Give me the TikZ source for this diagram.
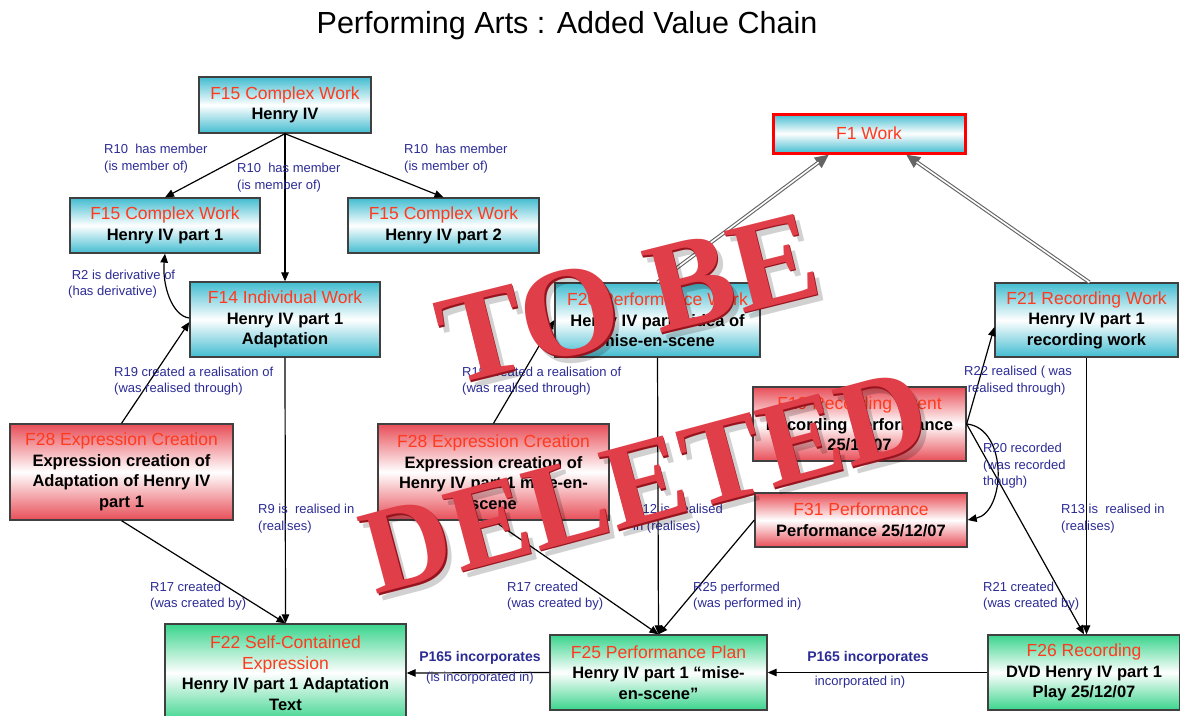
\documentclass[tikz,border=0pt]{standalone}
\usepackage{fontspec}
\setmainfont{Liberation Sans}
\newfontfamily\stampfont{Liberation Serif}
\usetikzlibrary{arrows.meta}
\definecolor{cyanbox}{RGB}{66,188,208}
\definecolor{redbox}{RGB}{232,78,88}
\definecolor{greenbox}{RGB}{58,212,140}
\definecolor{ttlred}{RGB}{255,58,30}
\definecolor{lblblue}{RGB}{44,44,150}
\definecolor{edgegray}{RGB}{64,64,64}
\definecolor{dblgray}{RGB}{100,100,100}
\definecolor{stampred}{RGB}{224,62,72}
\definecolor{stampdark}{RGB}{150,20,30}
\newcommand\hd[1]{{\mdseries\fontsize{17.5}{20.5}\selectfont\color{ttlred}#1}}
\begin{document}
\begin{tikzpicture}[x=1pt,y=-1pt,
 box/.style={draw=edgegray, line width=1.3pt, inner sep=0pt, align=center, font=\fontsize{16.5}{20.5}\selectfont\bfseries},
 cybox/.style={box, top color=cyanbox, bottom color=cyanbox, middle color=white},
 rdbox/.style={box, top color=redbox, bottom color=redbox, middle color=white},
 grbox/.style={box, top color=greenbox, bottom color=greenbox, middle color=white},
 arr/.style={draw=black, line width=1.2pt, -{Triangle[length=9pt,width=7.5pt]}},
 dblout/.style={draw=dblgray, line width=3.8pt, -{Triangle[length=14pt,width=12pt]}},
 dblin/.style={draw=white, line width=1.6pt, shorten >=13pt},
 lbl/.style={text=lblblue, font=\fontsize{13}{16.5}\selectfont, align=left, inner sep=0pt, anchor=west},
 plbl/.style={text=lblblue, inner sep=0pt},
 stampf/.style={font=\stampfont\bfseries\fontsize{128}{128}\selectfont, inner sep=0pt},
 stampg/.style={font=\stampfont\bfseries\fontsize{121}{121}\selectfont, inner sep=0pt},
]
\useasboundingbox[fill=white] (0,0) rectangle (1180,715);

\node[font=\fontsize{30.5}{34}\selectfont, anchor=base] (title) at (567,33) {Performing Arts : Added Value Chain};

% boxes
\node[cybox, minimum width=172pt, minimum height=56pt] (h4) at (285,105) {\hd{F15 Complex Work}\\Henry IV};
\node[cybox, minimum width=190pt, minimum height=55pt] (p1) at (165,225.5) {\hd{F15 Complex Work}\\Henry IV part 1};
\node[cybox, minimum width=191pt, minimum height=55pt] (p2) at (443.5,225.5) {\hd{F15 Complex Work}\\Henry IV part 2};
\node[cybox, minimum width=190pt, minimum height=75pt] (f14) at (285,319.5) {\hd{F14 Individual Work}\\Henry IV part 1\\Adaptation};
\node[cybox, draw=red, line width=3pt, minimum width=192pt, minimum height=39pt] (f1) at (869,133.5) {\hd{F1 Work}};
\node[cybox, minimum width=205pt, minimum height=74pt] (f20) at (657.5,320) {\hd{F20 Performance Work}\\Henry IV part 1 idea of\\mise-en-scene};
\node[cybox, minimum width=183pt, minimum height=74pt] (f21) at (1086.5,320) {\hd{F21 Recording Work}\\Henry IV part 1\\recording work};
\node[rdbox, minimum width=223pt, minimum height=96pt] (f28a) at (121.5,472) {\hd{F28 Expression Creation}\\Expression creation of\\Adaptation of Henry IV\\part 1};
\node[rdbox, minimum width=231pt, minimum height=96pt] (f28b) at (493.5,472) {\hd{F28 Expression Creation}\\Expression creation of\\Henry IV part 1 mise-en-\\scene};
\node[rdbox, minimum width=213pt, minimum height=74pt] (f19) at (859.5,424) {\hd{F19 Recording Event}\\Recording Performance\\25/12/07};
\node[rdbox, minimum width=212pt, minimum height=54pt] (f31) at (861,520) {\hd{F31 Performance}\\Performance 25/12/07};
\node[grbox, minimum width=241pt, minimum height=98pt] (f22) at (285.5,673) {\hd{F22 Self-Contained}\\\hd{Expression}\\Henry IV part 1 Adaptation\\Text};
\node[grbox, minimum width=217pt, minimum height=75pt] (f25) at (658.5,672.5) {\hd{F25 Performance Plan}\\Henry IV part 1 “mise-\\en-scene”};
\node[grbox, minimum width=192pt, minimum height=75pt] (f26) at (1084,672.5) {\hd{F26 Recording}\\DVD Henry IV part 1\\Play 25/12/07};

% connectors
\draw[arr] (h4.south) -- (p1.north);
\draw[arr] (h4.south) -- (p2.north);
\draw[arr] (h4.south) -- (f14.north);
\draw[arr] ([yshift=1.5pt]f14.west) .. controls (172,316) and (162,285) .. (p1.south);
\draw[arr] (f28a.north) -- ([yshift=-2.5pt]f14.west);
\draw[arr] (f28a.south) -- (f22.north);
\draw[arr] (f14.south) -- (f22.north);
\draw[arr] (f28b.north) -- (f20.west);
\draw[arr] (f28b.south) -- (f25.north);
\draw[arr] (f20.south) -- (f25.north);
\draw[arr] (f31.west) -- (f25.north);
\draw[arr] (f25.west) -- (f22.east);
\draw[arr] (f26.west) -- (f25.east);
\draw[arr] (f19.east) -- ([yshift=-7pt]f21.west);
\draw[arr] (f19.east) -- (f26.north);
\draw[arr] (f21.south) -- (f21.south |- f26.north);
\draw[arr] (f19.east) .. controls (1008,428) and (1006,512) .. (f31.east);
\draw[dblout] (f20.north) -- ([xshift=-40pt]f1.south);
\draw[dblin] (f20.north) -- ([xshift=-40pt]f1.south);
\draw[dblout] ([xshift=3pt]f21.north) -- ([xshift=37pt]f1.south);
\draw[dblin] ([xshift=3pt]f21.north) -- ([xshift=37pt]f1.south);

% labels
\node[lbl] (l1) at (104,158.5) {R10\ \ has member\\(is member of)};
\node[lbl] (l2) at (237,177.5) {R10\ \ has member\\(is member of)};
\node[lbl] (l3) at (404,158.5) {R10\ \ has member\\(is member of)};
\node[lbl] (l4) at (68,284) {\ R2 is derivative of\\(has derivative)};
\node[lbl] (l5) at (114,381) {R19 created a realisation of\\(was realised through)};
\node[lbl] (l6) at (462,381) {R19 created a realisation of\\(was realised through)};
\node[lbl] (l7) at (258,518.5) {R9 is\ \ realised in\\(realises)};
\node[lbl] (l8) at (633,518.5) {R12 is\ \ realised\\in (realises)};
\node[lbl] (l9) at (150,596) {R17 created\\(was created by)};
\node[lbl] (l10) at (507,596) {R17 created\\(was created by)};
\node[lbl] (l11) at (693,596) {R25 performed\\(was performed in)};
\node[lbl] (l12) at (964,380.5) {R22 realised ( was\\\ realised through)};
\node[lbl] (l13) at (983,466) {R20 recorded\\(was recorded\\though)};
\node[lbl] (l14) at (1061,518.5) {R13 is\ \ realised in\\(realises)};
\node[lbl] (l15) at (983,596) {R21 created\\(was created by)};
\node[plbl, font=\fontsize{14}{16}\selectfont\bfseries] (p165a) at (480,658) {P165 incorporates};
\node[plbl, font=\fontsize{13}{16}\selectfont] (p165b) at (480,678) {(is incorporated in)};
\node[plbl, font=\fontsize{14}{16}\selectfont\bfseries] (p165c) at (868,658) {P165 incorporates};
\node[plbl, font=\fontsize{13}{16}\selectfont] (p165d) at (860,682) {incorporated in)};

% stamp
\node[stampf, text=black, opacity=0.18, rotate=14] (tobeS) at (634,305) {TO BE};
\node[stampf, text=stampdark, rotate=14] (tobeD) at (629.5,300) {TO BE};
\node[stampf, text=stampred, rotate=14] (tobe) at (628,298.5) {TO BE};
\node[stampg, text=black, opacity=0.18, rotate=15] (delS) at (651,488.5) {DELETED};
\node[stampg, text=stampdark, rotate=15] (delD) at (646.5,483.5) {DELETED};
\node[stampg, text=stampred, rotate=15] (del) at (645,482) {DELETED};
\end{tikzpicture}
\end{document}
